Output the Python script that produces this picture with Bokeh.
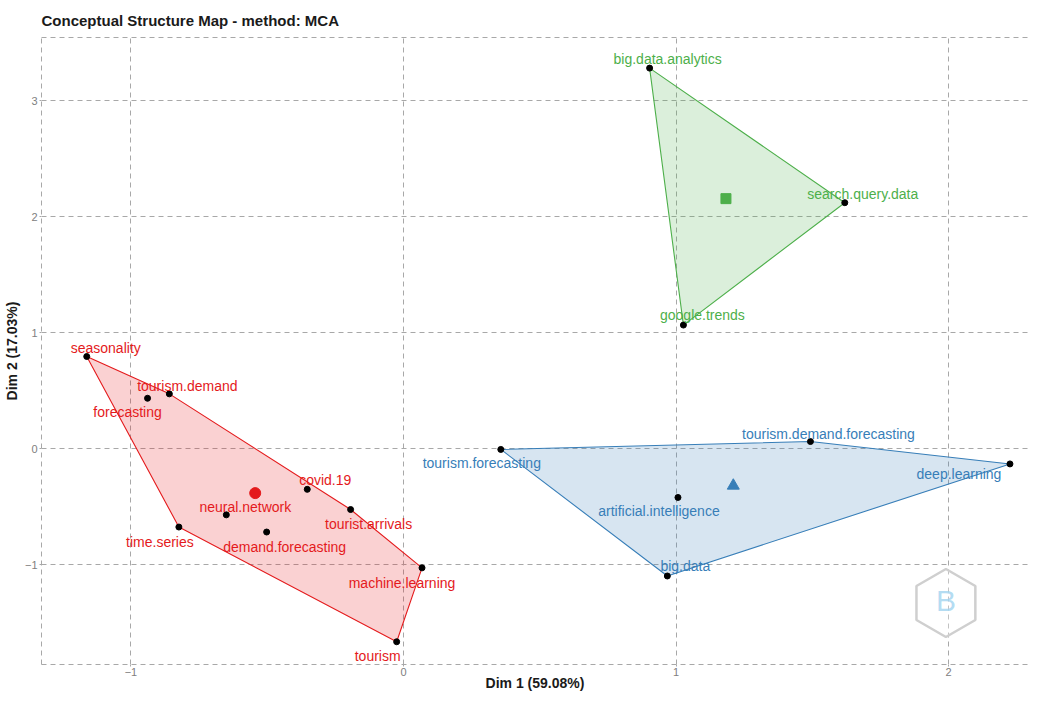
import numpy as np
from bokeh.plotting import figure
from bokeh.models import ColumnDataSource, FixedTicker, Range1d, LinearAxis
from bokeh.embed import file_html
from bokeh.resources import INLINE
from bokeh.core.properties import value

# ---------------- data ----------------
words = ["seasonality", "tourism.demand", "forecasting", "covid.19", "tourist.arrivals",
         "neural.network", "demand.forecasting", "time.series", "machine.learning", "tourism",
         "tourism.forecasting", "tourism.demand.forecasting", "deep.learning",
         "artificial.intelligence", "big.data",
         "big.data.analytics", "search.query.data", "google.trends"]
dim1 = [-1.162, -0.859, -0.939, -0.353, -0.194, -0.650, -0.502, -0.824, 0.068, -0.025,
        0.357, 1.493, 2.225, 1.007, 0.968,
        0.903, 1.619, 1.027]
dim2 = [0.795, 0.473, 0.435, -0.350, -0.524, -0.570, -0.718, -0.675, -1.027, -1.664,
        -0.006, 0.062, -0.131, -0.420, -1.097,
        3.281, 2.121, 1.066]
cluster = [1] * 10 + [2] * 5 + [3] * 3

x_ticks = [-1, 0, 1, 2]
y_ticks = [-1, 0, 1, 2, 3]
title_text = "Conceptual Structure Map - method: MCA"
x_label = "Dim 1 (59.08%)"
y_label = "Dim 2 (17.03%)"

# label placement offsets (screen pixels, layout only)
label_dx = [19, 18, -20, 18, 18, 19, 18, -19, -20, -19,
            -19, 18, -51, -19, 18,
            18, 18, 19]
label_dy = [-9, -8, 14, -9, 14, -8, 15, 15, 15, 14,
            14, -8, 10, 14, -10,
            -9, -9, -10]

# ---------------- styles ----------------
colors = {1: "#E41A1C", 2: "#377EB8", 3: "#4DAF4A"}
centroid_marker = {1: "circle", 2: "triangle", 3: "square"}
centroid_size = {1: 11, 2: 12, 3: 10}
FONT = "Liberation Sans"
GRID = "#a8a8a8"
DASH = "5 4"


def convex_hull(px, py):
    pts = sorted(set(zip(px, py)))

    def cross(o, a, b):
        return (a[0] - o[0]) * (b[1] - o[1]) - (a[1] - o[1]) * (b[0] - o[0])

    lower = []
    for q in pts:
        while len(lower) >= 2 and cross(lower[-2], lower[-1], q) <= 0:
            lower.pop()
        lower.append(q)
    upper = []
    for q in reversed(pts):
        while len(upper) >= 2 and cross(upper[-2], upper[-1], q) <= 0:
            upper.pop()
        upper.append(q)
    h = lower[:-1] + upper[:-1]
    return [q[0] for q in h], [q[1] for q in h]


p = figure(width=1028, height=693, output_backend="svg", toolbar_location=None,
           x_range=Range1d(-1.328, 2.293), y_range=Range1d(-1.86, 3.545),
           title=title_text)
p.min_border_left = 0
p.min_border_right = 0
p.min_border_top = 32
p.min_border_bottom = 0
p.outline_line_color = None
p.background_fill_color = "white"
p.border_fill_color = "white"

p.title.text_font = FONT
p.title.text_font_size = "15px"
p.title.text_font_style = "bold"
p.title.text_color = "#1a1a1a"
p.title.align = "left"
p.title.standoff = 18

# grid
for g, t in ((p.xgrid, x_ticks), (p.ygrid, y_ticks)):
    g.ticker = FixedTicker(ticks=t)
    g.grid_line_color = GRID
    g.grid_line_dash = DASH
    g.grid_line_width = 1

# axes
p.xaxis.ticker = FixedTicker(ticks=x_ticks)
p.yaxis.ticker = FixedTicker(ticks=y_ticks)
for ax in (p.xaxis[0], p.yaxis[0]):
    ax.axis_line_color = GRID
    ax.axis_line_dash = DASH
    ax.major_tick_line_color = GRID
    ax.major_tick_in = 0
    ax.major_tick_out = 2
    ax.minor_tick_line_color = None
    ax.major_label_text_font = FONT
    ax.major_label_text_font_size = "11px"
    ax.major_label_text_color = "#808080"
    ax.major_label_standoff = 2
    ax.axis_label_text_font = FONT
    ax.axis_label_text_font_size = "14px"
    ax.axis_label_text_font_style = "bold"
    ax.axis_label_text_color = "#1a1a1a"
    ax.axis_label_standoff = 2
p.xaxis.axis_label = x_label
p.yaxis.axis_label = y_label
p.xaxis.major_label_standoff = 1
p.xaxis.axis_label_standoff = -4

top_axis = LinearAxis(ticker=FixedTicker(ticks=[]), axis_line_color=GRID, axis_line_dash=DASH,
                      major_tick_line_color=None, minor_tick_line_color=None,
                      major_label_text_font_size="0px", major_label_standoff=0)
p.add_layout(top_axis, "above")

# watermark (hexagon logo)
p.scatter(x=[1.99], y=[-1.33], marker="hex", size=68, angle=np.pi / 2,
          fill_color="white", fill_alpha=0.3, line_color="#cfcfcf", line_width=2.5)
p.text(x=[1.99], y=[-1.31], text=["B"], text_font=value(FONT), text_font_size="30px",
       text_color="#9fd3ef", text_align="center", text_baseline="middle", text_alpha=0.8)

# clusters
for c in (1, 2, 3):
    idx = [i for i, k in enumerate(cluster) if k == c]
    cx = [dim1[i] for i in idx]
    cy = [dim2[i] for i in idx]
    hx, hy = convex_hull(cx, cy)
    p.patch(hx, hy, fill_color=colors[c], fill_alpha=0.2,
            line_color=colors[c], line_width=1.1)

p.scatter(dim1, dim2, size=6, color="black")

for c in (1, 2, 3):
    idx = [i for i, k in enumerate(cluster) if k == c]
    mx = float(np.mean([dim1[i] for i in idx]))
    my = float(np.mean([dim2[i] for i in idx]))
    p.scatter([mx], [my], marker=centroid_marker[c], size=centroid_size[c], color=colors[c])

src = ColumnDataSource(dict(x=dim1, y=dim2, text=words,
                            dx=label_dx, dy=label_dy,
                            color=[colors[k] for k in cluster]))
p.text(x="x", y="y", text="text", x_offset="dx", y_offset="dy", source=src,
       text_color="color", text_font=value(FONT), text_font_size="14px",
       text_align="center", text_baseline="middle")

open("out.html", "w").write(file_html(p, INLINE))
